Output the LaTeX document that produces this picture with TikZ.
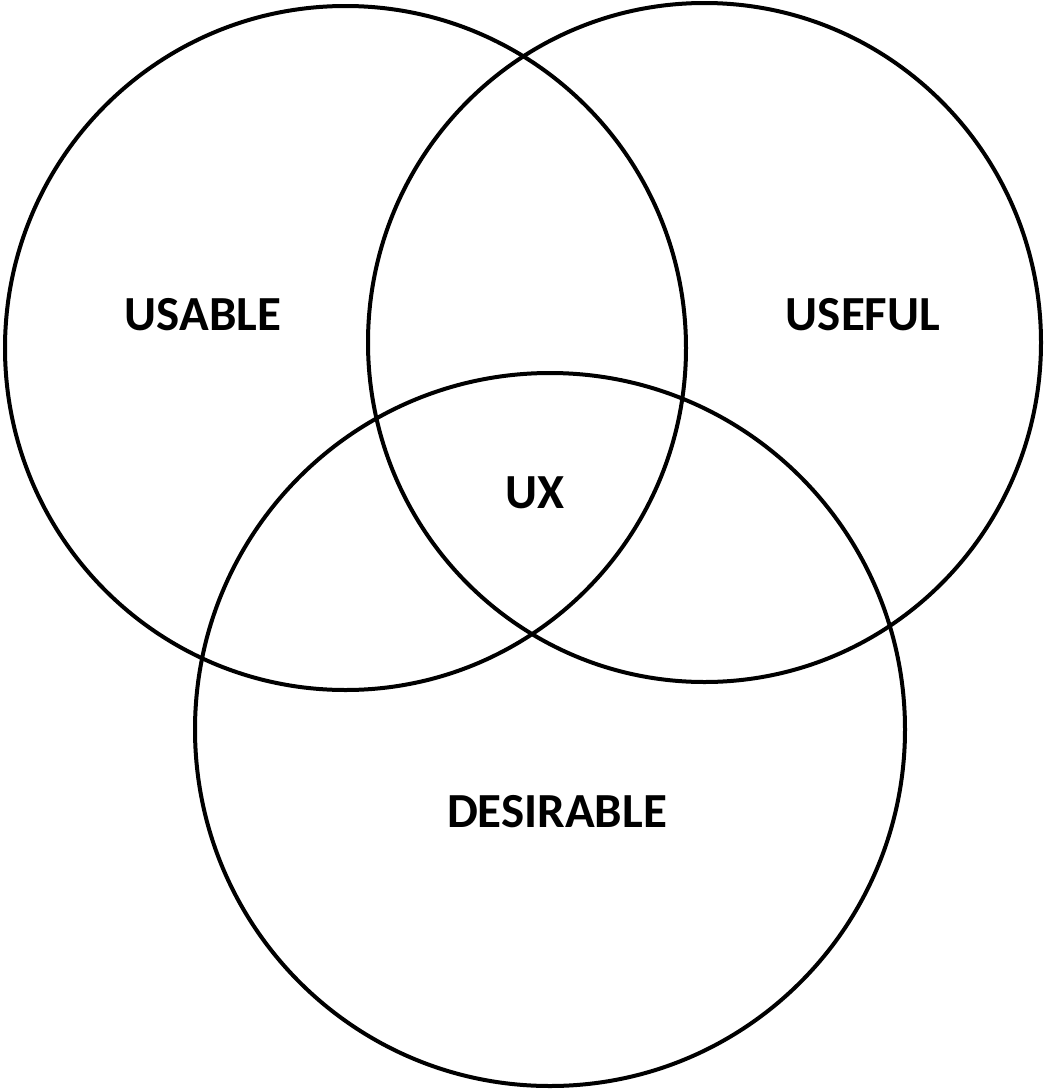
\documentclass[tikz,border=0pt]{standalone}
\usepackage{fontspec}
\setmainfont{Carlito}
\usetikzlibrary{shapes.geometric}
\begin{document}
\begin{tikzpicture}[
	x=1pt, y=-1pt,
	set/.style={ellipse, draw, line width=4pt, inner sep=0pt},
	label/.style={font=\fontsize{49}{59}\selectfont\bfseries}
	]
	\useasboundingbox (0,0) rectangle (1045,1090);
	% The three sets
	\node[set, minimum width=681pt, minimum height=684pt] (usable) at (345.5,348) {};
	\node[set, minimum width=673pt, minimum height=679pt] (useful) at (704.5,342.5) {};
	\node[set, minimum width=710pt, minimum height=713pt] (desirable) at (550,729.5) {};
	
	% Labels
	\node[label] (Lusable) at (203,315) {USABLE};
	\node[label] (Luseful) at (863,315) {USEFUL};
	\node[label] (Lux) at (535,493) {UX};
	\node[label] (Ldesirable) at (557,812) {DESIRABLE};
\end{tikzpicture}
\end{document}
